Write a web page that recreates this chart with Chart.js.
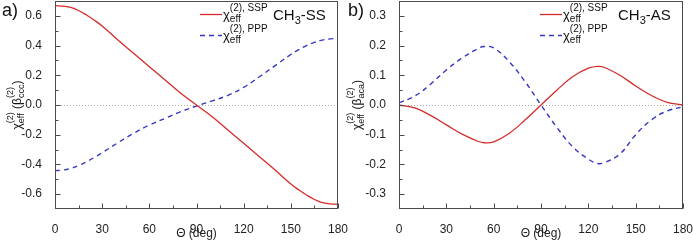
<!DOCTYPE html>
<html><head><meta charset="utf-8">
<script src="https://cdn.jsdelivr.net/npm/chart.js@4/dist/chart.umd.min.js"></script>
<style>
html,body{margin:0;padding:0;background:#fff;}
#wrap{position:relative;width:693px;height:241px;overflow:hidden;background:#fff;}
.c{position:absolute;top:0;height:241px;}
#ca{left:0;width:352px;} #cb{left:345px;width:348px;}
</style></head><body>
<div id="wrap"><div class="c" id="ca"><canvas id="a" width="352" height="241"></canvas></div><div class="c" id="cb"><canvas id="b" width="348" height="241"></canvas></div></div>
<script>
// ---- data ----
const thetaA = [0,5,10,15,20,25,30,40,50,60,70,80,90,100,110,120,130,140,150,155,160,165,170,175,180];
const sspA = [0.669,0.665,0.657,0.636,0.606,0.571,0.532,0.438,0.348,0.258,0.168,0.079,0.000,-0.079,-0.168,-0.258,-0.348,-0.438,-0.532,-0.571,-0.606,-0.636,-0.657,-0.665,-0.669];
const pppA = [-0.442,-0.438,-0.427,-0.407,-0.382,-0.353,-0.321,-0.254,-0.191,-0.135,-0.090,-0.045,-0.007,0.028,0.065,0.119,0.190,0.265,0.340,0.372,0.400,0.421,0.437,0.445,0.448];

const thetaB = [0,10,20,30,40,50,54,60,70,80,90,100,110,120,126,130,140,150,160,170,180];
const sspB = [0.000,-0.010,-0.035,-0.067,-0.098,-0.122,-0.127,-0.124,-0.095,-0.050,0.000,0.050,0.095,0.124,0.130,0.127,0.100,0.064,0.032,0.009,0.000];
const pppB = [0.007,0.030,0.070,0.118,0.158,0.190,0.197,0.192,0.145,0.078,0.000,-0.075,-0.140,-0.182,-0.197,-0.194,-0.165,-0.100,-0.050,-0.020,-0.006];

const xTicks = [0,30,60,90,120,150,180];
const xMinor = [15,45,75,105,135,165];
const yTicksA = [-0.6,-0.4,-0.2,0.0,0.2,0.4,0.6];
const yMinorA = [-0.5,-0.3,-0.1,0.1,0.3,0.5];
const yTicksB = [-0.3,-0.2,-0.1,0.0,0.1,0.2,0.3];
const yMinorB = [-0.25,-0.15,-0.05,0.05,0.15,0.25];

const seriesNames = ['SSP','PPP'];
const RED = '#d62a2a', BLUE = '#3636c4';
const FF = 'Arial, "Liberation Sans", sans-serif';
Chart.defaults.font.family = FF;
Chart.defaults.color = '#222';

function drawRich(ctx, items, x, y, doDraw){
  let cx = x;
  for (const it of items){
    if (it.stack){
      let w = 0;
      for (const s of it.stack){
        ctx.font = s.f + 'px ' + FF;
        if (doDraw) ctx.fillText(s.t, cx, y + s.dy);
        w = Math.max(w, ctx.measureText(s.t).width);
      }
      cx += w;
    } else {
      ctx.font = it.f + 'px ' + FF;
      if (doDraw) ctx.fillText(it.t, cx, y + (it.dy||0));
      cx += ctx.measureText(it.t).width;
    }
  }
  return cx - x;
}

const decor = {
  id: 'decor',
  beforeDatasetsDraw(chart, args, o){
    const ctx = chart.ctx, a = chart.chartArea, ys = chart.scales.y;
    const y0 = Math.round(ys.getPixelForValue(0)) + 0.5;
    ctx.save();
    ctx.strokeStyle = '#aaaaaa'; ctx.lineWidth = 1; ctx.setLineDash([1,2]);
    ctx.beginPath(); ctx.moveTo(a.left, y0); ctx.lineTo(a.right, y0); ctx.stroke();
    ctx.restore();
  },
  afterDraw(chart, args, o){
    const ctx = chart.ctx, a = chart.chartArea, xs = chart.scales.x, ys = chart.scales.y;
    ctx.save();
    ctx.strokeStyle = '#4a4a4a'; ctx.lineWidth = 1; ctx.setLineDash([]);
    ctx.strokeRect(Math.round(a.left)+0.5, Math.round(a.top)+0.5, Math.round(a.right-a.left)-1, Math.round(a.bottom-a.top)-1);
    ctx.beginPath();
    const bY = Math.round(a.bottom) - 0.5, lX = Math.round(a.left) + 0.5;
    for (const v of xTicks){ const px = Math.round(xs.getPixelForValue(v))+0.5; ctx.moveTo(px,bY); ctx.lineTo(px,bY-5); }
    for (const v of xMinor){ const px = Math.round(xs.getPixelForValue(v))+0.5; ctx.moveTo(px,bY); ctx.lineTo(px,bY-3); }
    for (const v of o.yMajor){ const py = Math.round(ys.getPixelForValue(v))+0.5; ctx.moveTo(lX,py); ctx.lineTo(lX+5,py); }
    for (const v of o.yMinor){ const py = Math.round(ys.getPixelForValue(v))+0.5; ctx.moveTo(lX,py); ctx.lineTo(lX+3,py); }
    ctx.stroke();

    ctx.fillStyle = '#111'; ctx.textBaseline = 'alphabetic'; ctx.textAlign = 'left';
    ctx.font = '18px ' + FF;
    ctx.fillText(o.letter, o.letterX, 16);
    drawRich(ctx, [{t:'CH', f:15},{t:'3', f:11, dy:4},{t:o.species, f:15}], a.left + o.specX, 20, true);
    chart.data.datasets.forEach((ds, i) => {
      const ly = 14 + i*21;
      ctx.save();
      ctx.strokeStyle = ds.borderColor; ctx.lineWidth = ds.borderWidth; ctx.setLineDash(ds.borderDash || []);
      ctx.beginPath(); ctx.moveTo(a.left + o.legX, ly + 0.5); ctx.lineTo(a.left + o.legX + 22, ly + 0.5); ctx.stroke();
      ctx.restore();
      drawRich(ctx, [{t:'\u03C7', f:13},{stack:[{t:'(2), ' + seriesNames[i], f:10, dy:-8},{t:'eff', f:10, dy:3}]}], a.left + o.legX + 23, ly + 5, true);
    });
    const items = [{t:'\u03C7', f:12},{stack:[{t:'(2)', f:9, dy:-8},{t:'eff', f:9, dy:3}]},{t:' (\u03B2', f:12},{stack:[{t:'(2)', f:9, dy:-8},{t:o.beta, f:9, dy:3}]},{t:')', f:12}];
    const w = drawRich(ctx, items, 0, 0, false);
    ctx.translate(o.titleX, (a.top + a.bottom)/2);
    ctx.rotate(-Math.PI/2);
    drawRich(ctx, items, -w/2, 0, true);
    ctx.restore();
  }
};

function makeChart(id, xs, ssp, ppp, ymin, ymax, yMajor, yMinor, yWidth, padRight, opts){
  return new Chart(document.getElementById(id), {
    type: 'line',
    data: { datasets: [
      { label: 'SSP', data: xs.map((t,i)=>({x:t, y:ssp[i]})), borderColor: RED, borderWidth: 1.3, pointRadius: 0, tension: 0.4, fill: false },
      { label: 'PPP', data: xs.map((t,i)=>({x:t, y:ppp[i]})), borderColor: BLUE, borderWidth: 1.4, borderDash: [5,4], pointRadius: 0, tension: 0.4, fill: false }
    ]},
    options: {
      responsive: false, animation: false, events: [],
      layout: { padding: { top: 1, right: padRight, left: 0, bottom: 0 } },
      plugins: { legend: { display: false }, tooltip: { enabled: false }, decor: Object.assign({yMajor, yMinor}, opts) },
      scales: {
        x: { type: 'linear', min: 0, max: 180,
             afterBuildTicks: s => { s.ticks = xTicks.map(v => ({value: v})); },
             afterFit: s => { s.height = 32; s.paddingLeft = 0; s.paddingRight = 0; s.paddingTop = 0; s.paddingBottom = 0; },
             grid: { display: false }, border: { display: false },
             ticks: { padding: 5, font: { size: 12 }, color: '#222', maxRotation: 0 },
             title: { display: true, text: '\u0398 (deg)', font: { size: 12 }, color: '#222', padding: { top: 0, bottom: 0 } } },
        y: { type: 'linear', min: ymin, max: ymax,
             afterBuildTicks: s => { s.ticks = yMajor.map(v => ({value: v})); },
             afterFit: s => { s.width = yWidth; s.paddingTop = 0; s.paddingBottom = 0; s.paddingLeft = 0; s.paddingRight = 0; },
             grid: { display: false }, border: { display: false },
             ticks: { padding: 5, font: { size: 12 }, color: '#222', callback: v => v.toFixed(1) } }
      }
    },
    plugins: [decor]
  });
}

makeChart('a', thetaA, sspA, pppA, -0.7, 0.7, yTicksA, yMinorA, 55, 14,
  { letter: 'a)', letterX: 2, species: '-SS', specX: 218, legX: 145, titleX: 21, beta: 'ccc' });
makeChart('b', thetaB, sspB, pppB, -0.35, 0.35, yTicksB, yMinorB, 54, 10,
  { letter: 'b)', letterX: 3, species: '-AS', specX: 219, legX: 141, titleX: 16, beta: 'aca' });
</script>
</body></html>
